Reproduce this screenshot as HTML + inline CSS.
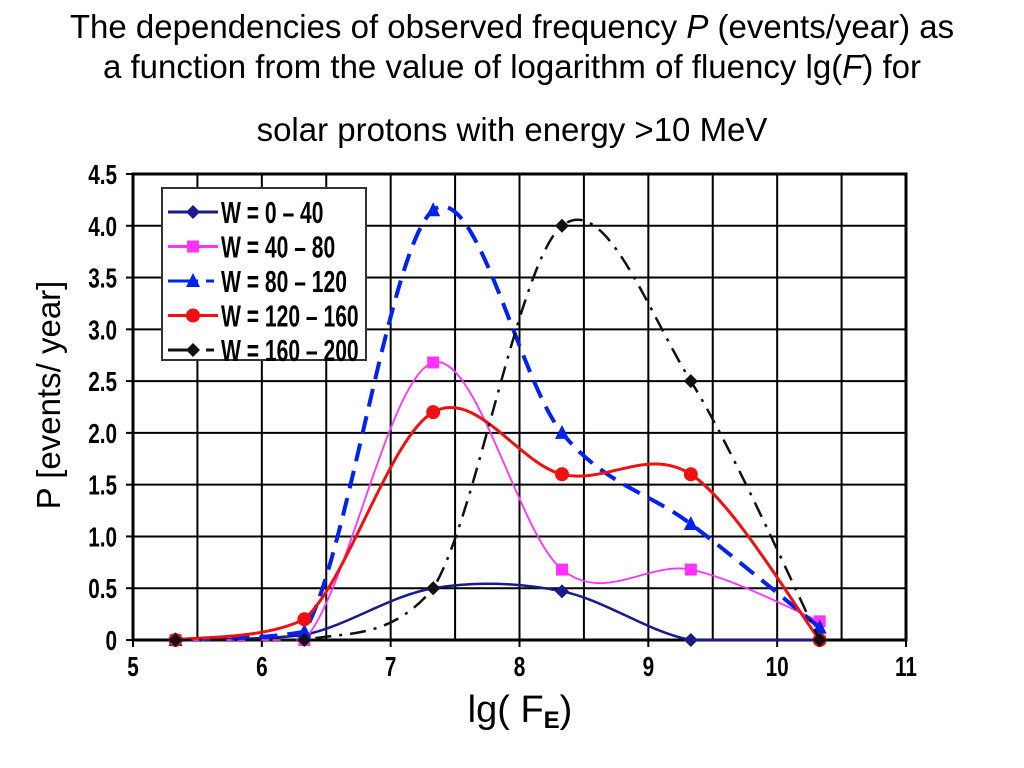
<!DOCTYPE html>
<html><head><meta charset="utf-8"><style>
body{margin:0;background:#fff;width:1024px;height:768px;overflow:hidden;font-family:"Liberation Sans",sans-serif}
.t{position:absolute;left:0;width:1024px;text-align:center;font-size:33px;color:#000;white-space:nowrap}
</style></head><body>
<div class="t" style="top:8px">The dependencies of observed frequency <i>P</i> (events/year) as</div>
<div class="t" style="top:48px">a function from the value of logarithm of fluency lg(<i>F</i>) for</div>
<div class="t" style="top:111px">solar protons with energy &gt;10 MeV</div>
<svg id="c" width="1024" height="768" style="position:absolute;left:0;top:0"></svg>
<script>
const xs=[5.33,6.33,7.33,8.33,9.33,10.33];
const s1=[0,0.05,0.5,0.47,0,0];
const s2=[0,0,2.68,0.68,0.68,0.18];
const s3=[0,0.08,4.15,2.0,1.12,0.12];
const s4=[0,0.2,2.2,1.6,1.6,0];
const s5=[0,0,0.5,4.0,2.5,0];
const xTicks=[5,6,7,8,9,10,11];
const yTicks=[0,0.5,1.0,1.5,2.0,2.5,3.0,3.5,4.0,4.5];
const yLabels=["0","0.5","1.0","1.5","2.0","2.5","3.0","3.5","4.0","4.5"];
const names=["W = 0 – 40","W = 40 – 80","W = 80 – 120","W = 120 – 160","W = 160 – 200"];
const X0=133,X1=906,Y0=640,Y1=174;
const sx=v=>X0+(v-5)/6*(X1-X0), sy=v=>Y0-v/4.5*(Y0-Y1);
const svg=document.getElementById('c');const NS='http://www.w3.org/2000/svg';
function mk(t,a,p){const e=document.createElementNS(NS,t);for(const k in a)e.setAttribute(k,a[k]);(p||svg).appendChild(e);return e;}
const g=mk('g',{});


for(let v=5;v<=11.001;v+=0.5){mk('line',{x1:sx(v),x2:sx(v),y1:Y1,y2:Y0,stroke:'#000','stroke-width':2},g);}
for(let v=0;v<=4.501;v+=0.5){mk('line',{x1:X0,x2:X1,y1:sy(v),y2:sy(v),stroke:'#000','stroke-width':2},g);}
mk('rect',{x:X0,y:Y1,width:X1-X0,height:Y0-Y1,fill:'none',stroke:'#000','stroke-width':3});
xTicks.forEach(v=>{mk('line',{x1:sx(v),x2:sx(v),y1:Y0,y2:Y0+7,stroke:'#000','stroke-width':2});
const t=mk('text',{x:0,y:0,'text-anchor':'middle','font-size':28,'font-weight':'bold',transform:`translate(${sx(v)},${Y0+36}) scale(0.74,1)`});


t.textContent=v;});
yTicks.forEach((v,i)=>{mk('line',{x1:X0-7,x2:X0,y1:sy(v),y2:sy(v),stroke:'#000','stroke-width':2});
const t=mk('text',{x:0,y:0,'text-anchor':'end','font-size':28,'font-weight':'bold',transform:`translate(117,${sy(v)+10}) scale(0.74,1)`});


t.textContent=yLabels[i];});
let xt=mk('text',{x:520,y:722,'text-anchor':'middle','font-size':38});


xt.innerHTML='lg( F<tspan font-size="24" font-weight="bold" dy="6">E</tspan><tspan dy="-6">)</tspan>';
let yt=mk('text',{x:0,y:0,'text-anchor':'middle','font-size':33,transform:'translate(60,395) rotate(-90)'});


yt.setAttribute('xml:space','preserve');
yt.textContent='P   [events/ year]';
function path(ys){const p=xs.map((x,i)=>[sx(x),sy(ys[i])]);let d=`M${p[0][0]},${p[0][1]}`;
const cl=y=>Math.min(y,Y0);
for(let i=0;i<p.length-1;i++){const a=p[Math.max(i-1,0)],b=p[i],c=p[i+1],e=p[Math.min(i+2,p.length-1)];
d+=` C${b[0]+(c[0]-a[0])/6},${cl(b[1]+(c[1]-a[1])/6)} ${c[0]-(e[0]-b[0])/6},${cl(c[1]-(e[1]-b[1])/6)} ${c[0]},${c[1]}`;}return d;}
function marker(type,x,y,col,pg){if(type==='d')return mk('polygon',{points:`${x},${y-7} ${x+7},${y} ${x},${y+7} ${x-7},${y}`,fill:col},pg);
if(type==='s')return mk('rect',{x:x-6,y:y-6,width:12,height:12,fill:col},pg);
if(type==='t')return mk('polygon',{points:`${x},${y-8} ${x+7},${y+6} ${x-7},${y+6}`,fill:col},pg);
return mk('circle',{cx:x,cy:y,r:7,fill:col},pg);}
const series=[[s1,'#1a1a8c',2.5,'','d'],[s2,'#ff33ff',1.8,'','s'],[s3,'#0022ee',4,'18 10','t'],[s4,'#ee1111',3,'','c'],[s5,'#111',2.5,'16 8 3 8','d']];
series.forEach((s,k)=>{const pg=mk('g',{});


mk('path',{d:path(s[0]),fill:'none',stroke:s[1],'stroke-width':s[2],'stroke-dasharray':s[3]},pg);
xs.forEach((x,i)=>marker(s[4],sx(x),sy(s[0][i]),s[1],pg));});
const lg=mk('g',{});


mk('rect',{x:162,y:188,width:204,height:172,fill:'#fff',stroke:'#333','stroke-width':2},lg);
series.forEach((s,k)=>{const y=212+k*34.5;const e=mk('g',{},lg);


mk('line',{x1:168,x2:218,y1:y,y2:y,stroke:s[1],'stroke-width':3,'stroke-dasharray':s[3]?'30 8 8 10':''},e);
marker(s[4],193,y,s[1],e);
const t=mk('text',{x:0,y:0,'font-size':31,'font-weight':'bold',transform:`translate(221,${y+11}) scale(0.68,1)`},e);t.textContent=names[k];});
</script>
</body></html>
